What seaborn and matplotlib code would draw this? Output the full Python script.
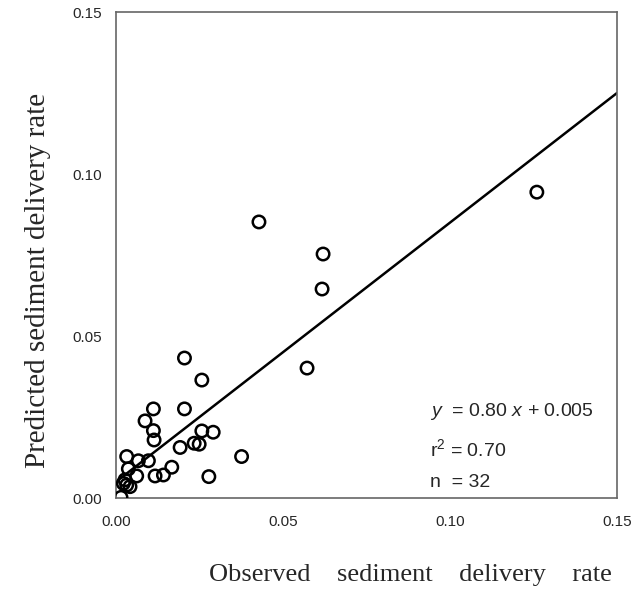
import numpy as np
import pandas as pd
import seaborn as sns
import matplotlib
matplotlib.use("Agg")
import matplotlib.pyplot as plt

# ---- data ----
observed = [0.126, 0.0428, 0.0620, 0.0617, 0.0572, 0.0205, 0.0257,
            0.0112, 0.0205, 0.0087, 0.0112, 0.0114, 0.0257, 0.0291,
            0.0234, 0.0249, 0.0192, 0.0376, 0.0032, 0.0067, 0.0097,
            0.0167, 0.0142, 0.0117, 0.0278, 0.0062, 0.0037, 0.0027,
            0.0032, 0.0022, 0.0042, 0.0015]
predicted = [0.0944, 0.0852, 0.0753, 0.0645, 0.0401, 0.0432, 0.0364,
             0.0275, 0.0275, 0.0238, 0.0208, 0.0179, 0.0207, 0.0203,
             0.0169, 0.0166, 0.0156, 0.0128, 0.0128, 0.0115, 0.0115,
             0.0095, 0.0071, 0.0068, 0.0066, 0.0068, 0.0090, 0.0056,
             0.0040, 0.0045, 0.0035, 0.0002]
slope = [0.80]
intercept = [0.005]
axis_range = [0.0, 0.15]
tick_values = [0.00, 0.05, 0.10, 0.15]
tick_labels = ["0.00", "0.05", "0.10", "0.15"]
stats_text = [r"$\mathit{y}$  = 0.80 $\mathit{x}$ + 0.005", r"r$^{2}$ = 0.70", "n  = 32"]

sns.set_style("white")
plt.rcParams["font.family"] = ["Liberation Sans", "DejaVu Sans"]
plt.rcParams["mathtext.fontset"] = "custom"
plt.rcParams["mathtext.rm"] = "Liberation Sans"
plt.rcParams["mathtext.it"] = "Liberation Sans:italic"

fig = plt.figure(figsize=(6.44, 6.12), dpi=100)
ax = fig.add_axes([116 / 644, 1 - 498 / 612, 501 / 644, 486 / 612])

df = pd.DataFrame({"obs": observed, "pred": predicted})
sns.scatterplot(data=df, x="obs", y="pred", ax=ax, marker="o", s=80,
                facecolor="none", edgecolor="black", linewidth=1.8, zorder=3)

line_x = np.array(axis_range)
line_df = pd.DataFrame({"x": line_x, "y": slope[0] * line_x + intercept[0]})
sns.lineplot(data=line_df, x="x", y="y", ax=ax, color="black", linewidth=1.8,
             zorder=2)

ax.set_xlim(axis_range)
ax.set_ylim(axis_range)
ax.set_xticks(tick_values)
ax.set_xticklabels(tick_labels)
ax.set_yticks(tick_values)
ax.set_yticklabels(tick_labels)
ax.tick_params(direction="in", length=5, width=1, color="#666666",
               labelsize=11)
ax.tick_params(axis="x", pad=12)
ax.tick_params(axis="y", pad=10)
for sp in ax.spines.values():
    sp.set_color("#666666")
    sp.set_linewidth(1.2)
ax.set_xlabel("")
ax.set_ylabel("")

ys = [0.178, 0.100, 0.032]
for t, yy in zip(stats_text, ys):
    ax.text(0.627, yy, t, transform=ax.transAxes, fontsize=14,
            ha="left", va="center")

fig.text(38 / 644, 1 - 280 / 612, "Predicted sediment delivery rate",
         rotation=90, ha="center", va="center", fontsize=21,
         family="Liberation Serif")
fig.text(410 / 644, 1 - 575 / 612, "Observed    sediment    delivery    rate",
         ha="center", va="center", fontsize=19, family="Liberation Serif")

fig.savefig("out.png", dpi=100)
